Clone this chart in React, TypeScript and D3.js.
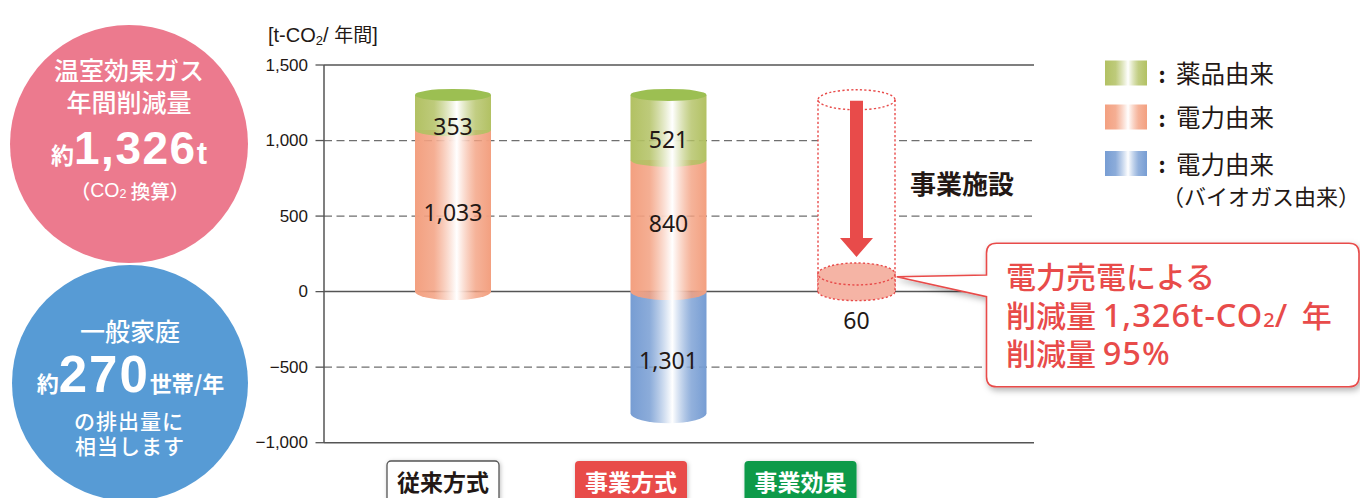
import React from "react";
import * as d3 from "d3";

// ---- data ----
const categories = ["従来方式", "事業方式", "事業効果"];
// printed values on the cylinders
const chemicalValues = [353, 521];
const powerValues = [1033, 840];
const biogasValues = [0, -1301];
const effectValue = 60;
// drawn extents of the cylinders read against the y axis (the picture is not drawn to scale)
const chemicalTops = [1302, 1302];
const powerTops = [1070, 871];
const biogasBottoms = [0, -805];
const effectDiskTop = 117;
const effectGhostTop = 1270;
// where each printed value sits, in axis units
const chemicalLabelAt = [1097, 1009];
const powerLabelAt = [529, 455];
const biogasLabelAt = [0, -452];
const effectLabelAt = -187;

const yTicks = [-1000, -500, 0, 500, 1000, 1500];
const legendLabels = ["薬品由来", "電力由来", "電力由来"];
const legendNote = "（バイオガス由来）";

const FONT_JP = "'Noto Sans CJK JP', 'Noto Sans', sans-serif";
const FONT_NUM = "'Noto Sans', 'Noto Sans CJK JP', sans-serif";
const FONT_AX = "'Liberation Sans', Arial, sans-serif";
const INK = "#231815";
const RED = "#e84b4a";

const colors = {
  green: "#b2c163",
  greenTop: "#9cbf52",
  orange: "#f3a080",
  blue: "#779dd3",
  diskFill: "#f5b4a5",
};

const fmt = d3.format(",");

export default function App() {
  const W = 1360;
  const H = 498;
  const y = d3.scaleLinear().domain([-1000, 1500]).range([442.7, 65]);
  const x = d3.scaleLinear().domain([0, 1, 2]).range([453, 668.5, 856.5]);
  const xBox = d3.scaleLinear().domain([0, 1, 2]).range([443, 631, 800.5]);
  const half = 38;
  const axisX = 324;
  const gridEnd = 1034;
  // perspective: ellipses get rounder lower on the page
  const ry = (py: number) => 6 + (py - 95) * (4 / 318);

  const segPath = (cx: number, yTop: number, yBot: number) => {
    const l = cx - half;
    const r = cx + half;
    return `M${l},${yTop}L${l},${yBot}A${half},${ry(yBot)} 0 0 0 ${r},${yBot}L${r},${yTop}Z`;
  };

  const bars = chemicalValues.map((_, i) => {
    const cx = x(i);
    const y0 = y(0);
    const yPow = y(powerTops[i]);
    const yChem = y(chemicalTops[i]);
    const yBio = y(biogasBottoms[i]);
    return (
      <g key={i}>
        {biogasBottoms[i] < 0 && <path d={segPath(cx, y0, yBio)} fill="url(#gBlue)" />}
        <path d={segPath(cx, yPow, y0)} fill="url(#gOrange)" />
        <path d={segPath(cx, yChem, yPow)} fill="url(#gGreen)" />
        <ellipse cx={cx} cy={yChem} rx={half} ry={ry(yChem)} fill={colors.greenTop} />
        <text x={cx} y={y(chemicalLabelAt[i])} textAnchor="middle" dominantBaseline="central"
          fontFamily={FONT_NUM} fontSize={23} fill={INK}>{fmt(chemicalValues[i])}</text>
        <text x={cx} y={y(powerLabelAt[i])} textAnchor="middle" dominantBaseline="central"
          fontFamily={FONT_NUM} fontSize={23} fill={INK}>{fmt(powerValues[i])}</text>
        {biogasValues[i] < 0 && (
          <text x={cx} y={y(biogasLabelAt[i])} textAnchor="middle" dominantBaseline="central"
            fontFamily={FONT_NUM} fontSize={23} fill={INK}>{fmt(-biogasValues[i])}</text>
        )}
      </g>
    );
  });

  // effect (ghost) cylinder
  const ex = x(2);
  const yGhost = y(effectGhostTop);
  const yDisk = y(effectDiskTop);
  const y0 = y(0);
  const ghostRy = 10;
  const dot = { stroke: RED, strokeWidth: 1.4, strokeDasharray: "2.2 2.2" };
  const arrowTop = yGhost + 1;
  const arrowTip = yDisk - 17;
  const headLen = 19;
  const arrowPath = `M${ex - 6.5},${arrowTop}L${ex + 6.5},${arrowTop}L${ex + 6.5},${arrowTip - headLen}L${ex + 16.5},${arrowTip - headLen}L${ex},${arrowTip}L${ex - 16.5},${arrowTip - headLen}L${ex - 6.5},${arrowTip - headLen}Z`;

  // callout
  const cl = 986.5, ct = 243.3, cr = 1359, cb = 386.7, rad = 10;
  const tipX = 896.7, tipY = 276.7;
  const calloutPath = `M${cl + rad},${ct}L${cr - rad},${ct}Q${cr},${ct} ${cr},${ct + rad}L${cr},${cb - rad}Q${cr},${cb} ${cr - rad},${cb}L${cl + rad},${cb}Q${cl},${cb} ${cl},${cb - rad}L${cl},296.7L${tipX},${tipY}L${cl},275L${cl},${ct + rad}Q${cl},${ct} ${cl + rad},${ct}Z`;

  const legendY = [72.5, 116.5, 163];
  const legendGrad = ["url(#gGreen)", "url(#gOrange)", "url(#gBlue)"];

  return (
    <svg width={W} height={H} viewBox={`0 0 ${W} ${H}`}
      style={{ position: "absolute", left: 0, top: 0, background: "#fff" }}>
      <defs>
        {[["gGreen", colors.green], ["gOrange", colors.orange], ["gBlue", colors.blue]].map(([id, c]) => (
          <linearGradient key={id} id={id} x1="0" x2="1" y1="0" y2="0">
            <stop offset="0" stopColor={c} />
            <stop offset="0.25" stopColor={c} stopOpacity={0.85} />
            <stop offset="0.55" stopColor="#ffffff" />
            <stop offset="0.8" stopColor={c} stopOpacity={0.8} />
            <stop offset="1" stopColor={c} />
          </linearGradient>
        ))}
        <filter id="shadow" x="-10%" y="-10%" width="120%" height="130%">
          <feDropShadow dx="2" dy="3" stdDeviation="3" floodColor="#000" floodOpacity="0.3" />
        </filter>
        <filter id="boxShadow" x="-10%" y="-20%" width="120%" height="140%">
          <feDropShadow dx="1" dy="1" stdDeviation="2" floodColor="#000" floodOpacity="0.25" />
        </filter>
      </defs>

      {/* left circles */}
      <circle cx={129} cy={144} r={119} fill="#ec7a8e" />
      <g fill="#fff" fontFamily={FONT_JP} textAnchor="middle" fontWeight={500}>
        <text x={129} y={68.5} fontSize={25} dominantBaseline="central">温室効果ガス</text>
        <text x={129} y={100.5} fontSize={25} dominantBaseline="central">年間削減量</text>
        <text x={129} y={163.5} fontWeight={700}>
          <tspan fontSize={23} fontFamily={FONT_JP}>約</tspan>
          <tspan fontSize={46} fontFamily={FONT_AX} fontWeight={900} letterSpacing={1.5}>1,326</tspan>
          <tspan fontSize={31} fontFamily={FONT_AX} fontWeight={900}>t</tspan>
        </text>
        <text x={130} y={190} fontSize={19.5} dominantBaseline="central">
          <tspan>（</tspan>
          <tspan fontFamily={FONT_AX}>CO</tspan>
          <tspan fontFamily={FONT_AX} fontSize={12.5} dy={4}>2</tspan>
          <tspan dy={-4}> 換算）</tspan>
        </text>
      </g>
      <circle cx={130} cy={383} r={118} fill="#579bd5" />
      <g fill="#fff" fontFamily={FONT_JP} textAnchor="middle" fontWeight={500}>
        <text x={130} y={330} fontSize={25} dominantBaseline="central">一般家庭</text>
        <text x={130.5} y={391.5} fontWeight={700}>
          <tspan fontSize={22} fontFamily={FONT_JP}>約</tspan>
          <tspan fontSize={51} fontFamily={FONT_AX} fontWeight={900} letterSpacing={2}>270</tspan>
          <tspan fontSize={22} fontFamily={FONT_JP}>世帯/年</tspan>
        </text>
        <text x={129} y={419.5} fontSize={21} letterSpacing={1} dominantBaseline="central">の排出量に</text>
        <text x={130} y={444.5} fontSize={21} letterSpacing={1} dominantBaseline="central">相当します</text>
      </g>

      {/* axis title */}
      <text x={268} y={42} fontFamily={FONT_AX} fontSize={20} fill={INK}>
        <tspan>[t-CO</tspan>
        <tspan fontSize={13} dy={3}>2</tspan>
        <tspan dy={-3}>/ </tspan>
        <tspan fontFamily={FONT_JP} fontSize={19}>年間</tspan>
        <tspan>]</tspan>
      </text>

      {/* grid & axes */}
      {yTicks.map((t) => {
        const solid = t === 0 || t === 1500 || t === -1000;
        return (
          <g key={t}>
            <line x1={315.5} x2={axisX} y1={y(t)} y2={y(t)} stroke="#555" strokeWidth={1.3} />
            <line x1={axisX} x2={gridEnd} y1={y(t)} y2={y(t)}
              stroke={solid ? "#555" : "#6f6f6f"} strokeWidth={solid ? 1.5 : 1.3}
              strokeDasharray={solid ? undefined : "8 4.5"} />
            <text x={308} y={y(t)} textAnchor="end" dominantBaseline="central"
              fontFamily={FONT_AX} fontSize={17} fill={INK}>{fmt(t)}</text>
          </g>
        );
      })}
      <line x1={axisX} x2={axisX} y1={y(1500)} y2={y(-1000)} stroke="#555" strokeWidth={1.5} />

      {/* ghost cylinder of effect */}
      <rect x={ex - half - 0.5} y={yGhost} width={2 * half + 1} height={y0 - yGhost} fill="#fff" />
      <ellipse cx={ex} cy={yGhost} rx={half + 0.5} ry={ghostRy} fill="#fff" {...dot} />
      <line x1={ex - half - 0.5} x2={ex - half - 0.5} y1={yGhost} y2={y0} {...dot} />
      <line x1={ex + half + 0.5} x2={ex + half + 0.5} y1={yGhost} y2={y0} {...dot} />
      <path d={`M${ex - half - 0.5},${yDisk}L${ex - half - 0.5},${y0}A${half + 0.5},9 0 0 0 ${ex + half + 0.5},${y0}L${ex + half + 0.5},${yDisk}Z`}
        fill={colors.diskFill} {...dot} />
      <ellipse cx={ex} cy={yDisk} rx={half + 0.5} ry={11} fill={colors.diskFill} {...dot} />
      <path d={arrowPath} fill={RED} />
      <text x={ex} y={y(effectLabelAt)} textAnchor="middle" dominantBaseline="central"
        fontFamily={FONT_NUM} fontSize={23} fill={INK}>{effectValue}</text>
      <text x={910} y={182} dominantBaseline="central" fontFamily={FONT_JP} fontSize={26}
        fontWeight={700} fill={INK}>事業施設</text>

      {/* bars */}
      {bars}

      {/* category boxes */}
      {categories.map((c, i) => {
        const styles = [
          { fill: "#fff", stroke: "#555", text: INK },
          { fill: RED, stroke: "none", text: "#fff" },
          { fill: "#0a9a48", stroke: "none", text: "#fff" },
        ][i];
        return (
          <g key={c}>
            <rect x={xBox(i) - 56} y={461} width={112} height={46} rx={4}
              fill={styles.fill} stroke={styles.stroke} strokeWidth={1.3} filter="url(#boxShadow)" />
            <text x={xBox(i)} y={480.5} textAnchor="middle" dominantBaseline="central"
              fontFamily={FONT_JP} fontSize={23} fontWeight={700} fill={styles.text}>{c}</text>
          </g>
        );
      })}

      {/* legend */}
      {legendLabels.map((l, i) => (
        <g key={i}>
          <rect x={1105} y={legendY[i] - 12} width={42} height={25} fill={legendGrad[i]} />
          <text x={1162} y={legendY[i]} textAnchor="middle" dominantBaseline="central"
            fontFamily={FONT_JP} fontSize={22} fontWeight={700} fill={INK}>:</text>
          <text x={1176} y={legendY[i]} dominantBaseline="central"
            fontFamily={FONT_JP} fontSize={24.5} fill={INK}>{l}</text>
        </g>
      ))}
      <text x={1162} y={195} dominantBaseline="central" fontFamily={FONT_JP} fontSize={22} fill={INK}>{legendNote}</text>

      {/* callout */}
      <path d={calloutPath} fill="#fff" stroke={RED} strokeWidth={1.6} filter="url(#shadow)" />
      <g fontFamily={FONT_JP} fontSize={30} fontWeight={500} fill={RED}>
        <text x={1006} y={275} dominantBaseline="central">電力売電による</text>
        <text x={1006} y={313.5} dominantBaseline="central">
          <tspan>削減量 </tspan>
          <tspan fontFamily={FONT_NUM} fontSize={32.5} letterSpacing={1}>1,326t-CO</tspan>
          <tspan fontFamily={FONT_NUM} fontSize={20} dy={5}>2</tspan>
          <tspan fontFamily={FONT_NUM} fontSize={32.5} dy={-5} letterSpacing={3}>/ </tspan>
          <tspan>年</tspan>
        </text>
        <text x={1006} y={352} dominantBaseline="central">
          <tspan>削減量 </tspan>
          <tspan fontFamily={FONT_NUM} fontSize={32.5} letterSpacing={1}>95%</tspan>
        </text>
      </g>
    </svg>
  );
}
